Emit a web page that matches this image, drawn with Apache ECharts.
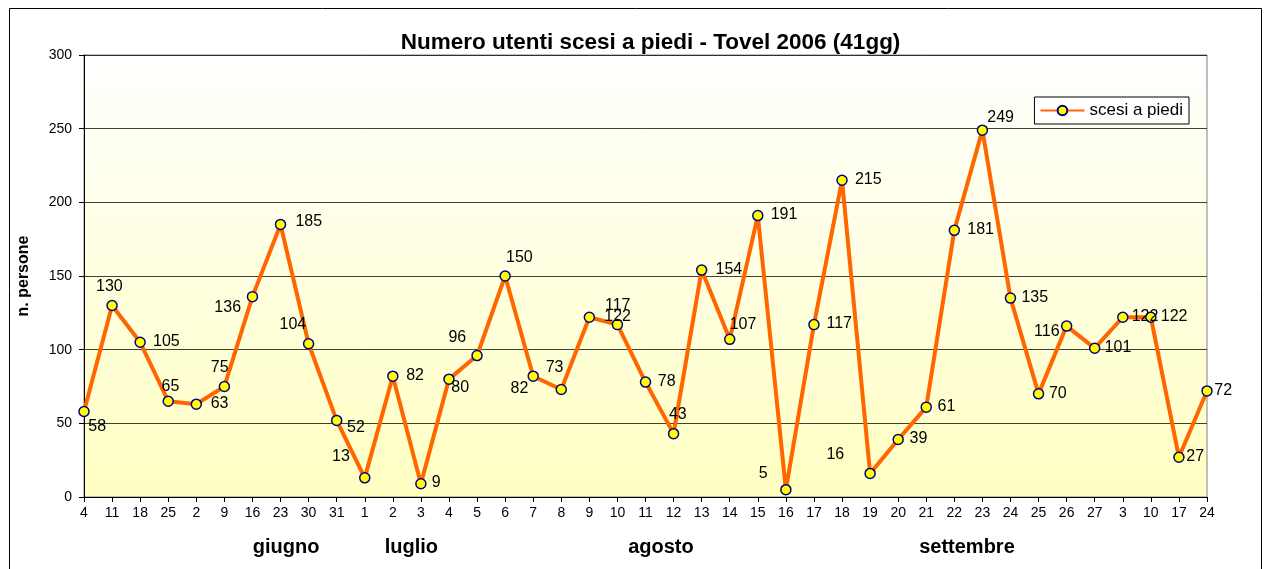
<!DOCTYPE html>
<html>
<head>
<meta charset="utf-8">
<title>Numero utenti scesi a piedi - Tovel 2006</title>
<script src="https://cdn.jsdelivr.net/npm/echarts@6/dist/echarts.min.js"></script>
<style>
  html, body { margin: 0; padding: 0; background: #fff; }
  #chart { width: 1264px; height: 569px; }
</style>
</head>
<body>
<div id="chart"></div>
<script>
// giorni (tick labels dell'asse x)
const days = ['4', '11', '18', '25', '2', '9', '16', '23', '30', '31', '1', '2', '3', '4', '5', '6', '7', '8', '9', '10',
  '11', '12', '13', '14', '15', '16', '17', '18', '19', '20', '21', '22', '23', '24', '25', '26', '27', '3', '10', '17', '24']
// scesi a piedi
const walkers = [58, 130, 105, 65, 63, 75, 136, 185, 104, 52, 13, 82, 9, 80, 96, 150, 82, 73, 122, 117,
  78, 43, 154, 107, 191, 5, 117, 215, 16, 39, 61, 181, 249, 135, 70, 116, 101, 122, 122, 27, 72]
const yTicks = [0, 50, 100, 150, 200, 250, 300]
const months = ['giugno', 'luglio', 'agosto', 'settembre']

// layout only: where each month name sits (category index) and label nudges (px from point centre)
const monthAt = [7.2, 11.66, 20.55, 31.45]
const labelNudge = [
  [14, 16], [-2, -18], [27, 0], [3, -14], [24, 0], [-4, -18], [-24, 12], [29, -2], [-15, -18], [20, 8],
  [-23, -21], [23, 0], [16, 0], [12, 9], [-19, -17], [15, -18], [-13, 13], [-6, -21], [29, 0], [1, -18],
  [22, 0], [5, -18], [28, 0], [14, -14], [27, 0], [-22, -15], [26, 0], [27, 0], [-34, -18], [21, 0],
  [21, 0], [27, 0], [19, -12], [25, 0], [20, 0], [-19, 6], [24, 0], [23, 0], [24, 0], [17, 0], [17, 0]
]

const G = { left: 84, right: 57, top: 55, bottom: 72 }
const W = 1264, H = 569
const font = '"Liberation Sans", Arial, sans-serif'

const chart = echarts.init(document.getElementById('chart'))
const plotW = W - G.left - G.right
const step = plotW / (days.length - 1)

chart.setOption({
  backgroundColor: '#fff',
  animation: false,
  textStyle: { fontFamily: font },
  title: {
    text: 'Numero utenti scesi a piedi - Tovel 2006 (41gg)',
    left: G.left + plotW / 2, textAlign: 'center', top: 26,
    textStyle: { fontSize: 22.5, fontWeight: 'bold', color: '#000', fontFamily: font }
  },
  legend: {
    right: 75, top: 97,
    backgroundColor: '#fff', borderColor: '#000', borderWidth: 1, borderRadius: 0,
    padding: [5, 6, 5, 5],
    itemWidth: 44, itemHeight: 12, itemGap: 4,
    textStyle: { fontSize: 17, color: '#000', fontFamily: font },
    data: ['scesi a piedi']
  },
  grid: {
    left: G.left, right: G.right, top: G.top, bottom: G.bottom,
    show: true, borderColor: '#808080', borderWidth: 1,
    backgroundColor: new echarts.graphic.LinearGradient(0, 0, 0, 1, [
      { offset: 0, color: '#ffffff' },
      { offset: 1, color: '#ffffc2' }
    ])
  },
  xAxis: {
    type: 'category', data: days, boundaryGap: false,
    axisLine: { lineStyle: { color: '#000', width: 1 } },
    axisTick: { show: true, alignWithLabel: true, length: 5, lineStyle: { color: '#000' } },
    axisLabel: { color: '#000', fontSize: 14, margin: 9, interval: 0, fontFamily: font },
    splitLine: { show: false }
  },
  yAxis: {
    type: 'value', min: 0, max: 300, interval: 50,
    name: 'n. persone', nameLocation: 'middle', nameGap: 52, nameRotate: 90,
    nameTextStyle: { fontSize: 16, fontWeight: 'bold', color: '#000', fontFamily: font },
    axisLine: { show: true, lineStyle: { color: '#000', width: 1 } },
    axisTick: { show: true, length: 5, lineStyle: { color: '#000' } },
    axisLabel: {
      color: '#000', fontSize: 14, margin: 12, fontFamily: font,
      formatter: v => yTicks.includes(v) ? String(v) : ''
    },
    splitLine: { show: true, lineStyle: { color: '#000', width: 1, opacity: 0.75 } }
  },
  series: [{
    name: 'scesi a piedi', type: 'line',
    data: walkers.map((v, i) => ({
      value: v,
      label: {
        show: true, position: [5 + labelNudge[i][0], 5 + labelNudge[i][1]],
        align: 'center', verticalAlign: 'middle'
      }
    })),
    symbol: 'circle', symbolSize: 10,
    lineStyle: { color: '#ff6600', width: 4 },
    itemStyle: { color: '#ffff00', borderColor: '#000080', borderWidth: 1.5 },
    label: { color: '#000', fontSize: 16, fontFamily: font },
    z: 3
  }],
  graphic: [
    {
      type: 'rect', silent: true, z: -1,
      shape: { x: 9.5, y: 8.5, width: W - 12, height: H },
      style: { fill: null, stroke: '#000', lineWidth: 1 }
    }
  ].concat(months.map((m, i) => ({
    type: 'text', silent: true,
    x: G.left + monthAt[i] * step, y: 547,
    style: {
      text: m, fill: '#000', font: 'bold 20px ' + font,
      textAlign: 'center', textVerticalAlign: 'middle'
    }
  })))
})
</script>
</body>
</html>
